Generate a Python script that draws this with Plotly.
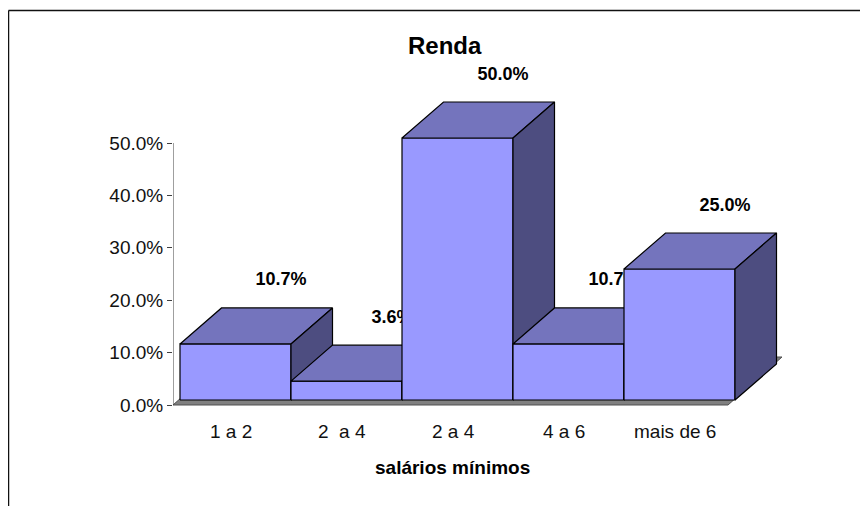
import plotly.graph_objects as go

# ---------------- data ----------------
categories = ["1 a 2", "2  a 4", "2 a 4", "4 a 6", "mais de 6"]
values = [10.7, 3.6, 50.0, 10.7, 25.0]
value_labels = ["10.7%", "3.6%", "50.0%", "10.7%", "25.0%"]
y_ticks = [0, 10, 20, 30, 40, 50]
y_tick_labels = ["0.0%", "10.0%", "20.0%", "30.0%", "40.0%", "50.0%"]
chart_title = "Renda"
x_title = "salários mínimos"

# ---------------- layout / projection constants ----------------
OFF = 8                       # page offset of the figure (browser body margin)
PAGE_W, PAGE_H = 868, 506
W, H = PAGE_W - OFF, PAGE_H - OFF
PLOT_LEFT, PLOT_RIGHT, PLOT_TOP, PLOT_BOTTOM = 173, 790, 55, 410   # page px
ML = PLOT_LEFT - OFF
MT = PLOT_TOP - OFF
MR = PAGE_W - PLOT_RIGHT
MB = PAGE_H - PLOT_BOTTOM
PLOT_W = PLOT_RIGHT - PLOT_LEFT
PLOT_H = PLOT_BOTTOM - PLOT_TOP
PX_PER_CAT = 111.0
PX_PER_PCT = 5.24
ZERO_PY = 405

X_AXIS_POS = -7 / PX_PER_CAT            # floor front-left corner / y-axis position
x_range = [X_AXIS_POS, X_AXIS_POS + PLOT_W / PX_PER_CAT]
y_bottom = -(PLOT_BOTTOM - ZERO_PY) / PX_PER_PCT
y_range = [y_bottom, y_bottom + PLOT_H / PX_PER_PCT]

BAR_DX = 41.5 / PX_PER_CAT     # bar depth projection
BAR_DY = 36 / PX_PER_PCT
FLOOR_DX = 54 / PX_PER_CAT     # floor depth projection
FLOOR_DY = 48 / PX_PER_PCT
BASE_X = 0.0                   # bars front plane offset from floor front
BASE_Y = 5 / PX_PER_PCT
LABEL_DX = 4 / PX_PER_CAT
LABEL_DY = 27 / PX_PER_PCT

FRONT = "#9999FF"
TOP = "#7474BD"
SIDE = "#4D4D80"
FLOOR = "#808080"
FONT = "Liberation Sans, Arial, sans-serif"


def px2paper_x(px):
    return (px - PLOT_LEFT) / PLOT_W


def py2paper_y(py):
    return (PLOT_BOTTOM - py) / PLOT_H


def poly(xs, ys, color, lw=1.2, lc="#000000"):
    return go.Scatter(x=xs + [xs[0]], y=ys + [ys[0]], mode="lines", fill="toself",
                      fillcolor=color, line=dict(color=lc, width=lw),
                      hoverinfo="skip", showlegend=False)


fig = go.Figure()

# floor
n = len(categories)
fx0, fx1 = X_AXIS_POS, X_AXIS_POS + n
fig.add_trace(poly([fx0, fx1, fx1 + FLOOR_DX, fx0 + FLOOR_DX],
                   [0, 0, FLOOR_DY, FLOOR_DY], FLOOR, lw=1, lc="#505050"))

# y-axis line
fig.add_trace(go.Scatter(x=[X_AXIS_POS, X_AXIS_POS], y=[y_ticks[0], y_ticks[-1]],
                         mode="lines", line=dict(color="#404040", width=1),
                         hoverinfo="skip", showlegend=False, cliponaxis=False))

# bars, back to front (left to right)
for i, (v, lab) in enumerate(zip(values, value_labels)):
    x0 = i + BASE_X
    x1 = i + 1 + BASE_X
    b = BASE_Y
    t = BASE_Y + v
    fig.add_trace(poly([x0, x1, x1, x0], [b, b, t, t], FRONT))
    fig.add_trace(poly([x0, x1, x1 + BAR_DX, x0 + BAR_DX],
                       [t, t, t + BAR_DY, t + BAR_DY], TOP))
    fig.add_trace(poly([x1, x1 + BAR_DX, x1 + BAR_DX, x1],
                       [b, b + BAR_DY, t + BAR_DY, t], SIDE))
    fig.add_trace(go.Scatter(
        x=[i + 0.5 + BASE_X + BAR_DX + LABEL_DX], y=[t + BAR_DY + LABEL_DY],
        mode="text", text=[f"<b>{lab}</b>"], textposition="middle center",
        textfont=dict(family=FONT, size=18, color="#000000"),
        hoverinfo="skip", showlegend=False, cliponaxis=False))

annotations = []
for i, c in enumerate(categories):
    annotations.append(dict(
        x=i + 0.5 - 0.04, xref="x", y=py2paper_y(432), yref="paper",
        text=c.replace("  ", "\u00a0 "), showarrow=False, xanchor="center", yanchor="middle",
        font=dict(family=FONT, size=19, color="#111111")))

annotations.append(dict(
    x=px2paper_x(445), xref="paper", y=py2paper_y(45), yref="paper",
    text=f"<b>{chart_title}</b>", showarrow=False, xanchor="center", yanchor="middle",
    font=dict(family=FONT, size=24, color="#000000")))
annotations.append(dict(
    x=px2paper_x(452), xref="paper", y=py2paper_y(467), yref="paper",
    text=f"<b>{x_title}</b>", showarrow=False, xanchor="center", yanchor="middle",
    font=dict(family=FONT, size=19, color="#000000")))

shapes = [
    dict(type="line", xref="paper", yref="paper",
         x0=px2paper_x(8.5), y0=py2paper_y(10.5), x1=px2paper_x(PAGE_W + 5), y1=py2paper_y(10.5),
         line=dict(color="#111111", width=1.5)),
    dict(type="line", xref="paper", yref="paper",
         x0=px2paper_x(8.5), y0=py2paper_y(10.5), x1=px2paper_x(8.5), y1=py2paper_y(PAGE_H + 5),
         line=dict(color="#111111", width=1.5)),
]

fig.update_layout(
    width=W, height=H,
    margin=dict(l=ML, r=MR, t=MT, b=MB, pad=0),
    paper_bgcolor="#FFFFFF", plot_bgcolor="#FFFFFF",
    showlegend=False,
    annotations=annotations,
    shapes=shapes,
    xaxis=dict(range=x_range, visible=False, fixedrange=True),
    yaxis=dict(range=y_range, showgrid=False, zeroline=False, showline=False,
               tickvals=y_ticks, ticktext=y_tick_labels, ticks="outside",
               ticklen=5, tickwidth=1, tickcolor="#404040",
               tickfont=dict(family=FONT, size=19, color="#111111"),
               fixedrange=True),
)

fig.write_html("out.html")
